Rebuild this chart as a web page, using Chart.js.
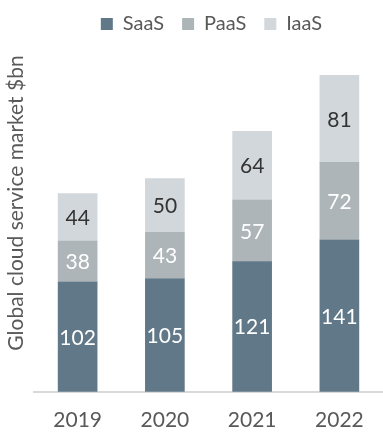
<!DOCTYPE html>
<html>
<head>
<meta charset="utf-8">
<script src="https://cdn.jsdelivr.net/npm/chart.js@4"></script>
<style>
  html, body { margin: 0; padding: 0; background: #fff; }
  #wrap { width: 383px; height: 432px; }
</style>
</head>
<body>
<div id="wrap"><canvas id="cloudChart"></canvas></div>
<script>
const years = ['2019', '2020', '2021', '2022'];
const saas = [102, 105, 121, 141];
const paas = [38, 43, 57, 72];
const iaas = [44, 50, 64, 81];

const FONT = 'Lato, "Open Sans", sans-serif';

// draws the value inside each segment and the rotated y axis title
const segmentLabels = {
  id: 'segmentLabels',
  afterDatasetsDraw(chart) {
    const ctx = chart.ctx;
    ctx.save();
    ctx.font = '21px ' + FONT;
    ctx.textAlign = 'center';
    ctx.textBaseline = 'middle';
    chart.data.datasets.forEach((ds, i) => {
      chart.getDatasetMeta(i).data.forEach((bar, j) => {
        const mid = (bar.y + bar.base) / 2;
        ctx.fillStyle = ds.labelColor;
        ctx.fillText(ds.data[j], bar.x, mid + 1);
      });
    });
    ctx.translate(16, 203);
    ctx.rotate(-Math.PI / 2);
    ctx.font = '21px ' + FONT;
    ctx.fillStyle = '#595959';
    ctx.fillText('Global cloud service market $bn', 0, 0);
    ctx.restore();
  }
};

const ctx = document.getElementById('cloudChart').getContext('2d');
const cloudChart = new Chart(ctx, {
  type: 'bar',
  data: {
    labels: years,
    datasets: [
      { label: 'SaaS', data: saas, backgroundColor: '#607887', labelColor: '#ffffff' },
      { label: 'PaaS', data: paas, backgroundColor: '#adb5b8', labelColor: '#ffffff' },
      { label: 'IaaS', data: iaas, backgroundColor: '#d2d7db', labelColor: '#333333' }
    ]
  },
  options: {
    responsive: true,
    maintainAspectRatio: false,
    animation: false,
    layout: { padding: { left: 34, right: -6, top: -4, bottom: -9 } },
    datasets: { bar: { barThickness: 39 } },
    plugins: {
      legend: {
        position: 'top',
        labels: {
          boxWidth: 12,
          boxHeight: 12,
          padding: 18,
          color: '#595959',
          font: { family: FONT, size: 20 }
        }
      },
      tooltip: { enabled: false }
    },
    scales: {
      x: {
        stacked: true,
        grid: { display: false },
        border: { display: true, color: '#d9d9d9', width: 2 },
        ticks: { color: '#595959', padding: 8, font: { family: FONT, size: 21 } }
      },
      y: {
        stacked: true,
        display: false,
        min: 0,
        max: 323
      }
    }
  },
  plugins: [segmentLabels]
});
</script>
</body>
</html>
